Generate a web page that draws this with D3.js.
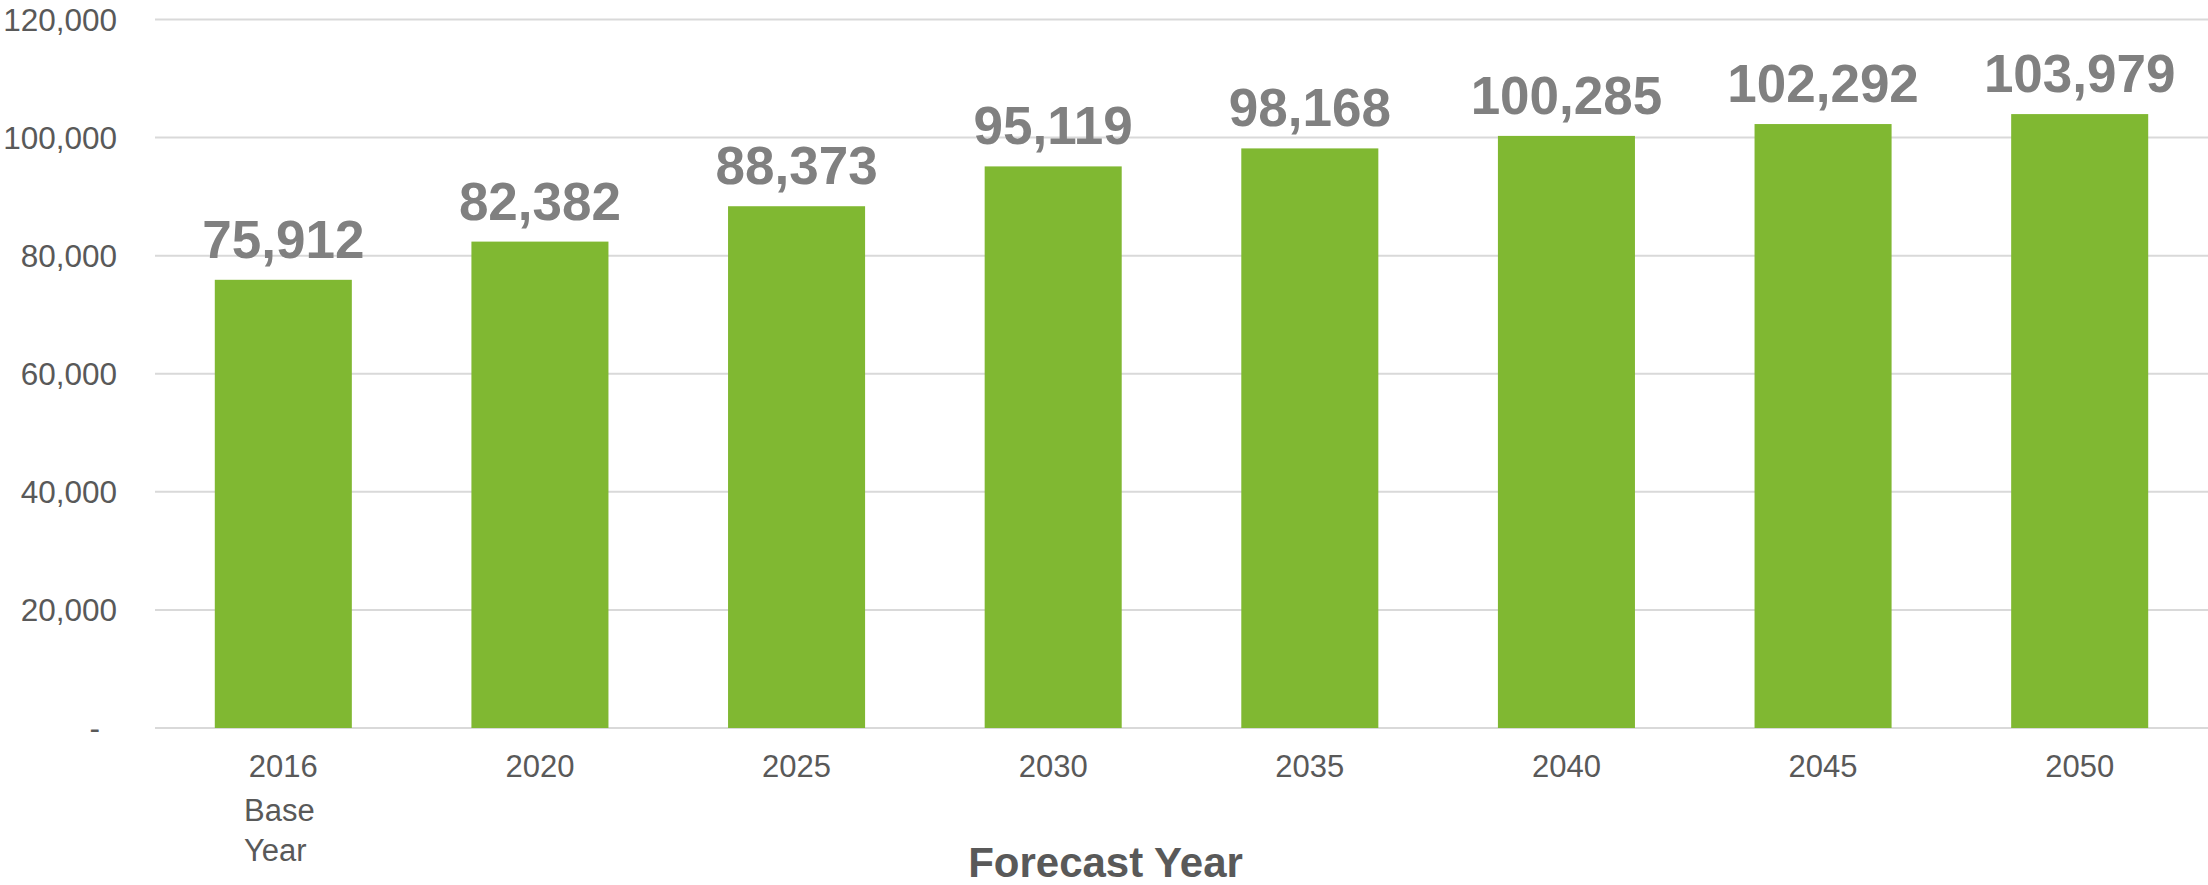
<!DOCTYPE html>
<html><head><meta charset="utf-8">
<script src="https://cdn.jsdelivr.net/npm/d3@7"></script>
<style>html,body{margin:0;padding:0;background:#fff;}svg{display:block;font-family:"Liberation Sans",Arial,sans-serif;}</style>
</head><body>
<svg id="c" width="2208" height="885"></svg>
<script>
const years = ["2016","2020","2025","2030","2035","2040","2045","2050"];
const subLabels = [["Base","Year"],[],[],[],[],[],[],[]];
const values = [75912, 82382, 88373, 95119, 98168, 100285, 102292, 103979];
const yTicks = [0, 20000, 40000, 60000, 80000, 100000, 120000];
const xTitle = "Forecast Year";

const svg = d3.select("#c");
const plotLeft = 155, plotRight = 2208, plotTop = 19.5, plotBottom = 728;
const x = d3.scaleBand().domain(years).range([plotLeft, plotRight]).paddingInner(0.466).paddingOuter(0.233);
const y = d3.scaleLinear().domain([0, 120000]).range([plotBottom, plotTop]);
const fmt = d3.format(",");

// gridlines
svg.append("g").selectAll("line").data(yTicks).join("line")
  .attr("x1", plotLeft).attr("x2", plotRight)
  .attr("y1", d => y(d)).attr("y2", d => y(d))
  .attr("stroke", "#d9d9d9").attr("stroke-width", 2);

// y axis labels
svg.append("g").selectAll("text").data(yTicks).join("text")
  .attr("x", d => d === 0 ? 100 : 117)
  .attr("y", d => y(d))
  .attr("dy", "0.35em")
  .attr("text-anchor", "end")
  .attr("font-size", 31.5).attr("fill", "#595959")
  .text(d => d === 0 ? "-" : fmt(d));

// bars
svg.append("g").selectAll("rect").data(values).join("rect")
  .attr("x", (d, i) => x(years[i]))
  .attr("width", x.bandwidth())
  .attr("y", d => y(d))
  .attr("height", d => y(0) - y(d))
  .attr("fill", "#80b832");

// value labels
svg.append("g").selectAll("text").data(values).join("text")
  .attr("x", (d, i) => x(years[i]) + x.bandwidth() / 2)
  .attr("y", d => y(d) - 22)
  .attr("text-anchor", "middle")
  .attr("font-size", 53).attr("font-weight", "bold").attr("fill", "#808080")
  .text(d => fmt(d));

// x labels
const xl = svg.append("g").selectAll("text").data(years).join("text")
  .attr("text-anchor", "middle")
  .attr("font-size", 31).attr("fill", "#595959");
xl.each(function(d, i) {
  const t = d3.select(this);
  const cx = x(d) + x.bandwidth() / 2;
  t.append("tspan").attr("x", cx).attr("y", 777).text(d);
  subLabels[i].forEach((s, k) => {
    t.append("tspan").attr("x", cx - 4 - k * 4).attr("y", 821 + k * 40).text(s);
  });
});

// axis title
svg.append("text")
  .attr("x", (plotLeft + plotRight) / 2 - 76).attr("y", 877)
  .attr("text-anchor", "middle")
  .attr("font-size", 42).attr("font-weight", "bold").attr("fill", "#595959")
  .text(xTitle);
</script>
</body></html>
